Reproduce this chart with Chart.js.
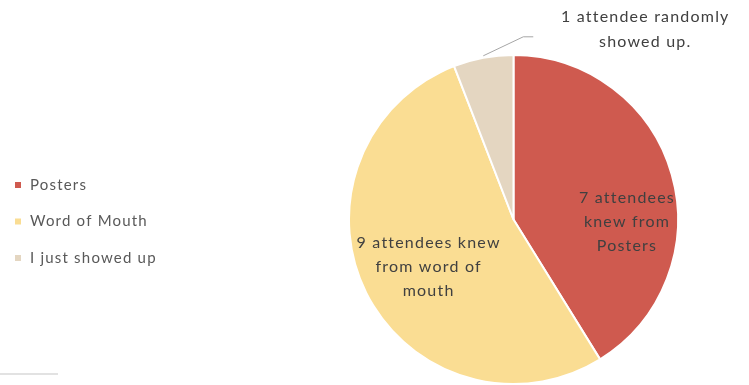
<!DOCTYPE html>
<html>
<head>
<meta charset="utf-8">
<script src="https://cdn.jsdelivr.net/npm/chart.js@4.4.1/dist/chart.umd.min.js"></script>
<style>
  html, body { margin: 0; padding: 0; background: #fff; }
  #wrap { width: 749px; height: 385px; position: relative; }
</style>
</head>
<body>
<div id="wrap"><canvas id="attendance" width="749" height="385"></canvas></div>
<script>
const categories = ['Posters', 'Word of Mouth', 'I just showed up'];
const attendees = [7, 9, 1];
const sliceColors = ['#CF5A4F', '#FADD93', '#E4D6C1'];
const sliceLabels = [
  ['7 attendees', 'knew from', 'Posters'],
  ['9 attendees knew', 'from word of', 'mouth'],
  ['1 attendee randomly', 'showed up.']
];

// where each label sits: angle (deg, 0 = right, clockwise) and distance as fraction of radius
const labelPlace = [
  { angle: 1, dist: 0.69 },
  { angle: 151, dist: 0.59 },
  { outside: true }
];

const FONT = 'Lato, "Open Sans", sans-serif';

const legendPlugin = {
  id: 'sideLegend',
  afterDraw(chart) {
    const ctx = chart.ctx;
    ctx.save();
    ctx.font = '15px ' + FONT;
    ctx.letterSpacing = '1.2px';
    ctx.textBaseline = 'middle';
    ctx.textAlign = 'left';
    chart.data.labels.forEach((lab, i) => {
      const y = 185 + i * 36.5;
      ctx.fillStyle = chart.data.datasets[0].backgroundColor[i];
      ctx.fillRect(15, y - 3, 6, 6);
      ctx.fillStyle = '#595959';
      ctx.fillText(lab, 30, y);
    });
    // faint rule at the bottom left
    ctx.strokeStyle = '#d9d9d9';
    ctx.lineWidth = 1.5;
    ctx.beginPath();
    ctx.moveTo(0, 374);
    ctx.lineTo(58, 374);
    ctx.stroke();
    ctx.restore();
  }
};

const labelPlugin = {
  id: 'sliceText',
  afterDatasetsDraw(chart) {
    const ctx = chart.ctx;
    const meta = chart.getDatasetMeta(0);
    ctx.save();
    ctx.font = '16px ' + FONT;
    ctx.letterSpacing = '1.2px';
    ctx.fillStyle = '#404040';
    ctx.textAlign = 'center';
    ctx.textBaseline = 'middle';
    meta.data.forEach((arc, i) => {
      const p = arc.getProps(['x', 'y', 'startAngle', 'endAngle', 'outerRadius'], true);
      const lines = sliceLabels[i];
      const place = labelPlace[i];
      if (place.outside) {
        const mid = (p.startAngle + p.endAngle) / 2;
        const ex = p.x + Math.cos(mid) * p.outerRadius;
        const ey = p.y + Math.sin(mid) * p.outerRadius;
        ctx.strokeStyle = '#a6a6a6';
        ctx.lineWidth = 1;
        ctx.beginPath();
        ctx.moveTo(ex, ey - 2);
        ctx.lineTo(ex + 40, ey - 21);
        ctx.lineTo(ex + 50, ey - 21);
        ctx.stroke();
        const tx = ex + 162;
        const ty = ey - 28;
        lines.forEach((t, k) => ctx.fillText(t, tx, ty + (k - (lines.length - 1) / 2) * 25));
      } else {
        const a = place.angle * Math.PI / 180;
        const cx = p.x + Math.cos(a) * p.outerRadius * place.dist;
        const cy = p.y + Math.sin(a) * p.outerRadius * place.dist;
        lines.forEach((t, k) => ctx.fillText(t, cx, cy + (k - (lines.length - 1) / 2) * 24));
      }
    });
    ctx.restore();
  }
};

new Chart(document.getElementById('attendance'), {
  type: 'pie',
  data: {
    labels: categories,
    datasets: [{
      data: attendees,
      backgroundColor: sliceColors,
      borderColor: '#ffffff',
      borderWidth: 2
    }]
  },
  options: {
    responsive: false,
    animation: false,
    layout: { padding: { left: 348, right: 70, top: 54, bottom: 0 } },
    plugins: {
      legend: { display: false },
      tooltip: { enabled: false },
      title: { display: false }
    }
  },
  plugins: [legendPlugin, labelPlugin]
});
</script>
</body>
</html>
